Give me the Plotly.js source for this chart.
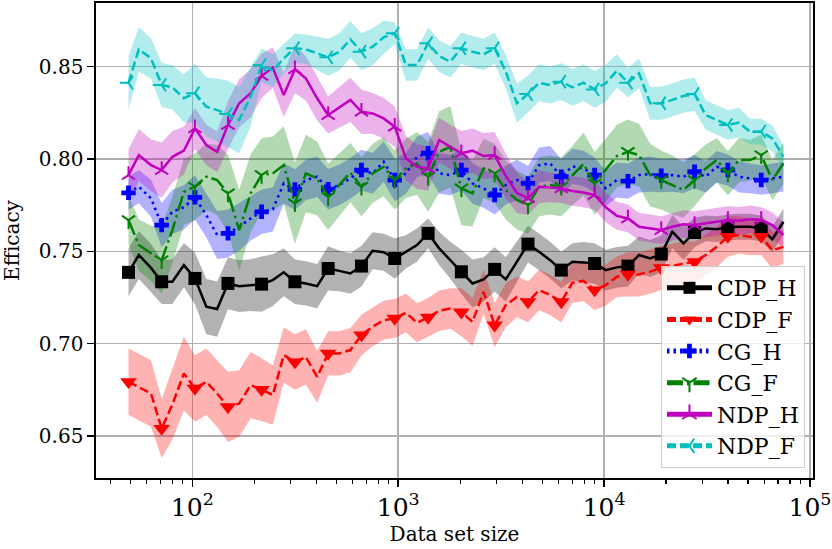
<!DOCTYPE html>
<html>
<head>
<meta charset="utf-8">
<script src="https://cdn.plot.ly/plotly-3.0.1.min.js"></script>
<style>
  html, body { margin: 0; padding: 0; background: #fff; }
  #plot { width: 832px; height: 549px; }
</style>
</head>
<body>
<div id="plot"></div>
<script>
// data set sizes (log spaced)
var sizes = [49, 55, 63, 71, 80, 91, 103, 117, 132, 149,
  169, 192, 217, 246, 278, 315, 356, 404, 457, 517,
  586, 663, 751, 850, 962, 1090, 1234, 1397, 1581, 1790,
  2027, 2295, 2598, 2941, 3331, 3771, 4269, 4834, 5473, 6196,
  7015, 7943, 8995, 10186, 11533, 13058, 14784, 16738, 18950, 21454,
  24290, 27502, 31139, 35258, 39920, 45199, 51175, 57943, 65604, 74279];

// mean efficacy per method
var cdpH = [0.7386, 0.748, 0.741, 0.7335, 0.7335, 0.7425, 0.7353, 0.720, 0.7187, 0.7326,
  0.7311, 0.7317, 0.7322, 0.7344, 0.7386, 0.7335, 0.7326, 0.7311, 0.7407, 0.7394,
  0.738, 0.742, 0.7503, 0.7495, 0.7461, 0.7497, 0.7534, 0.7597, 0.7516, 0.7452,
  0.7389, 0.7326, 0.7348, 0.7402, 0.7348, 0.7443, 0.7539, 0.7497, 0.7452, 0.7398,
  0.7443, 0.744, 0.7434, 0.7398, 0.7413, 0.742, 0.748, 0.7461, 0.7485, 0.7606,
  0.7543, 0.7602, 0.7624, 0.762, 0.763, 0.7633, 0.7633, 0.7624, 0.7565, 0.766];
var cdpF = [0.6793, 0.6766, 0.673, 0.654, 0.667, 0.6838, 0.6757, 0.6793, 0.673, 0.6657,
  0.6676, 0.6775, 0.6751, 0.6721, 0.6938, 0.690, 0.6928, 0.682, 0.6947, 0.6947,
  0.6965, 0.7046, 0.7091, 0.7127, 0.7136, 0.7167, 0.7113, 0.7142, 0.7178, 0.719,
  0.717, 0.7118, 0.728, 0.710, 0.7208, 0.7253, 0.7226, 0.729, 0.7263, 0.7226,
  0.733, 0.734, 0.729, 0.7317, 0.7362, 0.7375, 0.7375, 0.739, 0.741, 0.742,
  0.7434, 0.7443, 0.748, 0.7524, 0.758, 0.7588, 0.7579, 0.758, 0.7506, 0.7524];
var cgH = [0.7817, 0.785, 0.7787, 0.7642, 0.7714, 0.7738, 0.7792, 0.7696, 0.7588, 0.7597,
  0.7633, 0.7678, 0.7714, 0.7727, 0.7868, 0.7835, 0.7886, 0.7904, 0.7836, 0.7859,
  0.7895, 0.794, 0.7922, 0.7985, 0.7886, 0.7922, 0.8012, 0.8031, 0.7922, 0.7913,
  0.794, 0.7868, 0.7841, 0.7805, 0.7859, 0.7886, 0.7868, 0.7967, 0.7976, 0.7904,
  0.796, 0.7949, 0.7913, 0.7841, 0.7886, 0.788, 0.7913, 0.7918, 0.791, 0.7913,
  0.7904, 0.7931, 0.7904, 0.7958, 0.794, 0.7904, 0.7895, 0.7886, 0.7895, 0.7904];
var cgF = [0.7669, 0.7534, 0.7489, 0.7452, 0.7615, 0.7822, 0.785, 0.7904, 0.7886, 0.7814,
  0.7615, 0.7814, 0.7913, 0.7922, 0.7967, 0.776, 0.7922, 0.7895, 0.7795, 0.786,
  0.7926, 0.785, 0.7922, 0.7958, 0.7886, 0.7949, 0.7976, 0.7904, 0.8039, 0.8066,
  0.7841, 0.7814, 0.7949, 0.7922, 0.7832, 0.7778, 0.775, 0.785, 0.7859, 0.785,
  0.791, 0.7973, 0.7868, 0.794, 0.8016, 0.8039, 0.8021, 0.7913, 0.7886, 0.7859,
  0.7832, 0.7886, 0.7949, 0.7994, 0.7922, 0.7994, 0.7994, 0.8021, 0.7886, 0.7976];
var ndpH = [0.7913, 0.8021, 0.7967, 0.794, 0.8012, 0.8045, 0.8166, 0.8076, 0.8039, 0.8184,
  0.8302, 0.8356, 0.845, 0.8495, 0.8347, 0.8486, 0.8437, 0.8329, 0.8238, 0.828,
  0.832, 0.8256, 0.8247, 0.822, 0.8175, 0.8004, 0.7958, 0.7949, 0.8103, 0.8066,
  0.8031, 0.8045, 0.8016, 0.8021, 0.7908, 0.7817, 0.7787, 0.785, 0.7846, 0.7841,
  0.7827, 0.7819, 0.7805, 0.7738, 0.7692, 0.7678, 0.7633, 0.7624, 0.7615, 0.7633,
  0.7647, 0.7642, 0.7651, 0.766, 0.7669, 0.7665, 0.7673, 0.7669, 0.7642, 0.7588];
var ndpF = [0.8413, 0.8594, 0.8545, 0.8401, 0.8388, 0.8329, 0.8356, 0.8283, 0.8265, 0.8244,
  0.8211, 0.8337, 0.8509, 0.8478, 0.8545, 0.86, 0.8594, 0.8572, 0.8551, 0.858,
  0.8648, 0.8581, 0.8608, 0.8659, 0.8681, 0.8509, 0.8509, 0.8627, 0.8558, 0.8527,
  0.86, 0.8581, 0.8567, 0.86, 0.8473, 0.8302, 0.8352, 0.8413, 0.8401, 0.8419,
  0.8388, 0.8413, 0.8377, 0.841, 0.8478, 0.8413, 0.8464, 0.8302, 0.8302, 0.832,
  0.8341, 0.8352, 0.8238, 0.8211, 0.8184, 0.8197, 0.8148, 0.8148, 0.8112, 0.8012];

// spread (half width of the shaded band)
var cdpHStd = [.013, .013, .013, .012, .012, .012, .014, .015, .015, .014,
  .014, .014, .015, .014, .013, .012, .012, .012, .012, .011,
  .011, .011, .010, .010, .011, .009, .009, .008, .009, .010,
  .012, .013, .012, .012, .012, .011, .010, .010, .010, .010,
  .010, .011, .011, .011, .011, .011, .010, .010, .010, .009,
  .009, .008, .007, .007, .007, .007, .007, .007, .007, .007];
var cdpFStd = [.018, .018, .018, .016, .019, .020, .018, .018, .018, .019,
  .018, .018, .017, .016, .015, .015, .015, .014, .012, .012,
  .012, .011, .0105, .0105, .0105, .0105, .0105, .0105, .011, .011,
  .013, .013, .012, .012, .012, .011, .011, .011, .011, .011,
  .011, .011, .011, .011, .011, .012, .012, .012, .012, .012,
  .012, .011, .011, .011, .011, .010, .010, .010, .010, .009];
var cgHStd = [.009, .009, .010, .012, .012, .012, .012, .012, .013, .013,
  .013, .012, .012, .012, .011, .011, .011, .011, .011, .011,
  .011, .011, .011, .011, .0115, .011, .011, .0115, .011, .011,
  .011, .011, .0105, .0105, .0105, .011, .0095, .0095, .0095, .0095,
  .0095, .0095, .0095, .0095, .0095, .0095, .0095, .0095, .009, .009,
  .009, .009, .0085, .0085, .0085, .0085, .008, .008, .008, .008];
var cgFStd = [.013, .014, .015, .018, .018, .018, .018, .018, .019, .021,
  .022, .021, .020, .020, .021, .022, .021, .020, .018, .017,
  .016, .016, .016, .016, .016, .016, .017, .019, .022, .022,
  .020, .018, .016, .016, .016, .016, .0155, .016, .016, .016,
  .016, .017, .017, .017, .017, .0175, .017, .017, .016, .016,
  .015, .014, .013, .012, .012, .012, .011, .011, .011, .011];
var ndpHStd = [.014, .014, .014, .015, .014, .013, .011, .011, .011, .013,
  .013, .013, .012, .011, .012, .013, .012, .012, .010, .011,
  .012, .012, .011, .011, .011, .012, .012, .012, .012, .012,
  .012, .012, .0125, .0125, .012, .011, .009, .009, .008, .008,
  .008, .008, .008, .008, .0075, .0075, .0075, .0075, .0075, .0075,
  .0075, .0075, .0075, .0075, .0075, .0075, .0075, .007, .007, .007];
var ndpFStd = [.0145, .012, .011, .012, .012, .013, .016, .016, .017, .018,
  .018, .016, .009, .009, .008, .008, .008, .009, .010, .010,
  .010, .010, .010, .009, .006, .0085, .0085, .0085, .0085, .0085,
  .0085, .0085, .0085, .0085, .009, .0105, .010, .010, .010, .010,
  .010, .010, .010, .010, .009, .008, .008, .009, .009, .009,
  .009, .009, .008, .008, .008, .008, .007, .007, .007, .006];

var FONT = 'DejaVu Serif, Liberation Serif, serif';

var series = [
  {name: 'CDP_H', y: cdpH, sd: cdpHStd, color: '#000000', band: 'rgba(0,0,0,0.3)', dash: 'solid', symbol: 'square', ms: 13, open: false},
  {name: 'CDP_F', y: cdpF, sd: cdpFStd, color: '#ff0000', band: 'rgba(255,0,0,0.3)', dash: '9px,4px', symbol: 'triangle-down', ms: 14.5, open: false},
  {name: 'CG_H', y: cgH, sd: cgHStd, color: '#0000ff', band: 'rgba(0,0,255,0.3)', dash: '2.5px,4px', symbol: 'cross', ms: 12, open: false},
  {name: 'CG_F', y: cgF, sd: cgFStd, color: '#008000', band: 'rgba(0,128,0,0.3)', dash: '16px,4px,2.5px,4px', symbol: 'y-down', ms: 11, open: true},
  {name: 'NDP_H', y: ndpH, sd: ndpHStd, color: '#bf00bf', band: 'rgba(191,0,191,0.3)', dash: 'solid', symbol: 'y-up', ms: 11, open: true},
  {name: 'NDP_F', y: ndpF, sd: ndpFStd, color: '#00bfbf', band: 'rgba(0,191,191,0.3)', dash: '9px,4px', symbol: 'y-left', ms: 11, open: true}
];

var bands = [];
var lines = [];
series.forEach(function (s) {
  var lo = s.y.map(function (v, i) { return v - s.sd[i]; });
  var hi = s.y.map(function (v, i) { return v + s.sd[i]; });
  bands.push({x: sizes, y: lo, mode: 'lines', line: {width: 0}, showlegend: false, hoverinfo: 'skip'});
  bands.push({x: sizes, y: hi, mode: 'lines', line: {width: 0}, fill: 'tonexty',
    fillcolor: s.band, showlegend: false, hoverinfo: 'skip'});

  // marker on every third point
  var msz = s.y.map(function (v, i) { return i % 3 === 0 ? s.ms : 0; });
  lines.push({
    x: sizes, y: s.y, name: s.name, mode: 'lines+markers',
    line: {color: s.color, width: 2.5, dash: s.dash},
    marker: {symbol: s.symbol, size: msz, color: s.color, opacity: 1,
      line: {color: s.color, width: s.open ? 2 : 0}}
  });
});

var layout = {
  width: 832, height: 549,
  margin: {l: 96, r: 19, t: 3, b: 71},
  paper_bgcolor: '#fff', plot_bgcolor: '#fff',
  font: {family: FONT, size: 20, color: '#000'},
  showlegend: true,
  legend: {
    x: 0.9888, y: 0.021, xanchor: 'right', yanchor: 'bottom', traceorder: 'normal',
    bgcolor: 'rgba(255,255,255,0.8)', bordercolor: '#cccccc', borderwidth: 1,
    font: {family: FONT, size: 22}, itemsizing: 'constant', itemwidth: 45
  },
  xaxis: {
    type: 'log', range: [1.5323, 5.0146], dtick: 1, exponentformat: 'power',
    showgrid: true, gridcolor: '#b0b0b0', gridwidth: 1.6,
    ticks: 'outside', ticklen: 7, tickwidth: 1.6, tickcolor: '#000',
    minor: {ticks: 'outside', ticklen: 4, tickwidth: 1.2, tickcolor: '#000', dtick: 'D1', showgrid: false},
    showline: true, linecolor: '#000', linewidth: 1.6, mirror: true, zeroline: false,
    tickfont: {family: FONT, size: 20},
    title: {text: 'Data set size', font: {family: FONT, size: 20}, standoff: 6}
  },
  yaxis: {
    range: [0.6272, 0.8845], tick0: 0.65, dtick: 0.05, tickformat: '.2f',
    showgrid: true, gridcolor: '#b0b0b0', gridwidth: 1.6,
    ticks: 'outside', ticklen: 7, tickwidth: 1.6, tickcolor: '#000',
    showline: true, linecolor: '#000', linewidth: 1.6, mirror: true, zeroline: false,
    tickfont: {family: FONT, size: 20},
    title: {text: 'Efficacy', font: {family: FONT, size: 20}, standoff: 22}
  }
};

Plotly.newPlot('plot', bands.concat(lines), layout, {displayModeBar: false, staticPlot: true});
</script>
</body>
</html>
